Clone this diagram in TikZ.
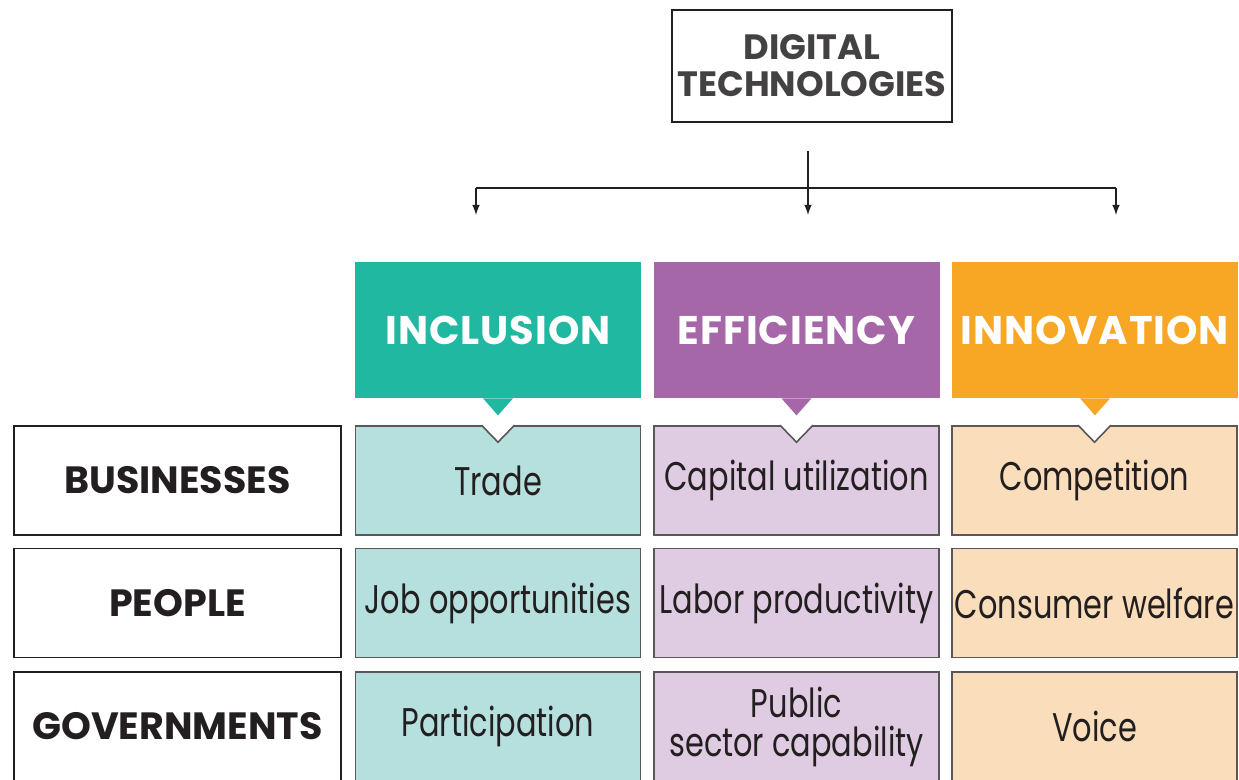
\documentclass[tikz,border=0pt]{standalone}
\usepackage{fontspec}
\usepackage{xcolor}
\setmainfont{Poppins}
\newfontfamily\headfont{Poppins}[LetterSpace=2.5]
\newfontfamily\bodyfont{Poppins}[FakeStretch=0.76]
\definecolor{tealH}{HTML}{21B8A1}
\definecolor{tealL}{HTML}{B6E0DD}
\definecolor{purpH}{HTML}{A567A8}
\definecolor{purpL}{HTML}{E0CCE2}
\definecolor{orngH}{HTML}{F7A723}
\definecolor{orngL}{HTML}{FADDBA}
\definecolor{ink}{HTML}{231F20}

\begin{document}
\begin{tikzpicture}[x=0.5pt, y=-0.5pt,
  rowlabel/.style={draw=ink, line width=0.8pt, minimum width=163.5pt, minimum height=54.5pt, font=\bfseries\fontsize{19}{20}\selectfont, text=ink},
  head/.style={fill=#1, minimum width=143pt, minimum height=68pt, text=white, font=\headfont\bfseries\fontsize{20}{22}\selectfont},
  cell/.style={fill=#1, draw=ink!75, line width=0.8pt, inner sep=0pt, text width=142.5pt, minimum height=54.5pt, text=ink, align=flush center, font=\bodyfont\fontsize{20}{19.5}\selectfont},
  arr/.style={-latex, line width=0.75pt, ink}]
\useasboundingbox (0,0) rectangle (1239,780);
\clip (0,0) rectangle (1239,780);
\fill[white] (0,0) rectangle (1239,780);

% top box
\node[draw=ink, line width=0.8pt, inner xsep=1pt, minimum width=140pt, minimum height=56pt, align=center, text=ink!85, font=\bfseries\fontsize{17.6}{18.5}\selectfont] (dt) at (812,66) {DIGITAL\\TECHNOLOGIES};

% headers
\node[head=tealH] (inc) at (498,330) {INCLUSION};
\node[head=purpH] (eff) at (796.5,330) {EFFICIENCY};
\node[head=orngH] (inn) at (1095,330) {INNOVATION};
\fill[tealH] ([xshift=-7.5pt]inc.south) -- ([xshift=7.5pt]inc.south) -- ([yshift=-8.5pt]inc.south) -- cycle;
\fill[purpH] ([xshift=-7.5pt]eff.south) -- ([xshift=7.5pt]eff.south) -- ([yshift=-8.5pt]eff.south) -- cycle;
\fill[orngH] ([xshift=-7.5pt]inn.south) -- ([xshift=7.5pt]inn.south) -- ([yshift=-8.5pt]inn.south) -- cycle;

% fork
\coordinate (fork) at (808,188);
\coordinate (tipinc) at (476,215);
\coordinate (tipeff) at (808,215);
\coordinate (tipinn) at (1116,215);
\draw[arr] ([yshift=-14pt]dt.south -| tipeff) -- (tipeff);
\draw[line width=0.75pt, ink] (fork -| tipinc) -- (fork -| tipinn);
\draw[arr] (fork -| tipinc) -- (tipinc);
\draw[arr] (fork -| tipinn) -- (tipinn);

% row labels
\node[rowlabel] (bus) at (177.5,480.5) {BUSINESSES};
\node[rowlabel] (ppl) at (177.5,603) {PEOPLE};
\node[rowlabel] (gov) at (177.5,726.5) {GOVERNMENTS};

% cells
\node[cell=tealL] (trade) at (498,480.5) {Trade};
\node[cell=purpL] (capital) at (796.5,480.5) {Capital utilization};
\node[cell=orngL] (compet) at (1094.5,480.5) {Competition};
\node[cell=tealL] (jobs) at (498,603) {Job opportunities};
\node[cell=purpL] (labor) at (796.5,603) {Labor productivity};
\node[cell=orngL] (welfare) at (1094.5,603) {Consumer welfare};
\node[cell=tealL] (partic) at (498,726.5) {Participation};
\node[cell=purpL] (public) at (796.5,726.5) {Public\\sector capability};
\node[cell=orngL] (voice) at (1094.5,726.5) {Voice};

% notches
\fill[white] ([shift={(-8.25pt,0.6pt)}]trade.north) -- ([shift={(8.25pt,0.6pt)}]trade.north) -- ([yshift=-8.5pt]trade.north) -- cycle;
\fill[white] ([shift={(-8.25pt,0.6pt)}]capital.north) -- ([shift={(8.25pt,0.6pt)}]capital.north) -- ([yshift=-8.5pt]capital.north) -- cycle;
\fill[white] ([shift={(-8.25pt,0.6pt)}]compet.north) -- ([shift={(8.25pt,0.6pt)}]compet.north) -- ([yshift=-8.5pt]compet.north) -- cycle;
\draw[ink!75, line width=0.8pt] ([xshift=-8.25pt]trade.north) -- ([yshift=-8.5pt]trade.north) -- ([xshift=8.25pt]trade.north);
\draw[ink!75, line width=0.8pt] ([xshift=-8.25pt]capital.north) -- ([yshift=-8.5pt]capital.north) -- ([xshift=8.25pt]capital.north);
\draw[ink!75, line width=0.8pt] ([xshift=-8.25pt]compet.north) -- ([yshift=-8.5pt]compet.north) -- ([xshift=8.25pt]compet.north);
\end{tikzpicture}
\end{document}
